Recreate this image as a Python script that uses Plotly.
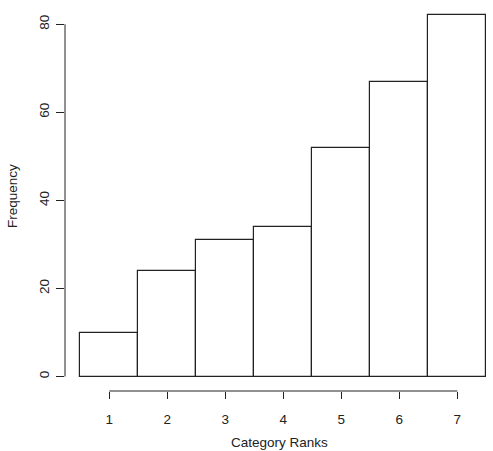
import plotly.graph_objects as go

ranks = [1, 2, 3, 4, 5, 6, 7]
frequency = [10, 24, 31, 34, 52, 67, 82]
y_ticks = [0, 20, 40, 60, 80]
x_label = "Category Ranks"
y_label = "Frequency"

FONT = "Liberation Sans, Arial, sans-serif"
INK = "#222222"

fig = go.Figure(go.Bar(
    x=ranks, y=frequency, width=1,
    marker=dict(color="white", line=dict(color=INK, width=1.2)),
    hoverinfo="x+y",
))

fig.update_layout(
    width=493, height=451,
    margin=dict(l=65, r=0, t=1, b=59.5),
    paper_bgcolor="white", plot_bgcolor="white",
    showlegend=False,
    font=dict(family=FONT, size=13.5, color=INK),
    bargap=0,
)

fig.update_xaxes(
    range=[0.236, 7.615], tickvals=ranks, ticktext=[str(r) for r in ranks],
    ticks="outside", ticklen=7, tickwidth=1, tickcolor=INK,
    showline=False, showgrid=False, zeroline=False,
    ticklabelstandoff=9,
)
fig.update_yaxes(
    range=[-3.28, 85.28], tickvals=y_ticks, ticktext=[str(v) for v in y_ticks],
    ticks="outside", ticklen=8, tickwidth=1, tickcolor=INK, tickangle=-90,
    showline=False, showgrid=False, zeroline=False,
    ticklabelstandoff=2,
)

# R-style axis lines spanning only first to last tick
fig.add_shape(type="line", xref="paper", yref="y", x0=0, x1=0,
              y0=y_ticks[0], y1=y_ticks[-1], line=dict(color=INK, width=1))
fig.add_shape(type="line", xref="x", yref="paper", x0=ranks[0], x1=ranks[-1],
              y0=0, y1=0, line=dict(color=INK, width=1))

fig.add_annotation(text=y_label, xref="paper", yref="paper", x=0, y=0.5,
                   xshift=-53, textangle=-90, showarrow=False,
                   xanchor="center", yanchor="middle")
fig.add_annotation(text=x_label, xref="paper", yref="paper", x=0.5, y=0,
                   yshift=-51, showarrow=False,
                   xanchor="center", yanchor="middle")

fig.write_html("out.html")
